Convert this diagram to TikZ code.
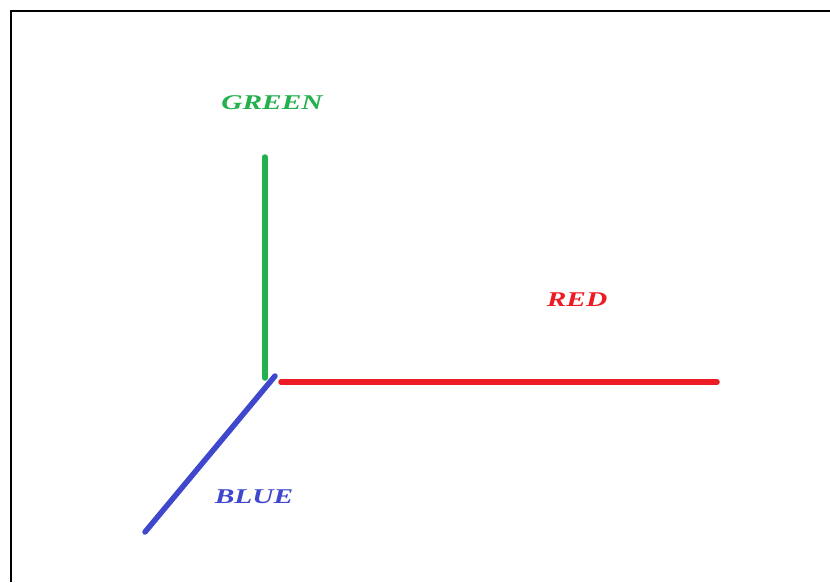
\documentclass[tikz,border=0pt]{standalone}
\usepackage{fontspec}
\setmainfont{Liberation Serif}
\usepackage{tikz}
\usetikzlibrary{positioning}

\definecolor{paintgreen}{RGB}{34,177,76}
\definecolor{paintred}{RGB}{237,28,36}
\definecolor{paintblue}{RGB}{63,72,204}

\begin{document}
\begin{tikzpicture}[
  x=1pt, y=-1pt,
  axis/.style={line width=5.5pt, line cap=round},
  axislabel/.style={font=\fontsize{21}{21}\selectfont\bfseries\itshape,
             inner sep=0pt, xscale=1.4, transform shape}
]
\useasboundingbox (0,0) rectangle (830,582);

% frame
\draw[line width=2pt] (11,582) -- (11,11) -- (830,11);

% axes
\coordinate (gtop) at (265,157);
\coordinate (gbot) at (265,378);
\coordinate (rleft) at (281,382);
\coordinate (rright) at (717,382);
\coordinate (bup) at (275,376);
\coordinate (bdown) at (145,532);

\draw[axis, paintgreen] (gtop) -- (gbot);
\draw[axis, paintred] (rleft) -- (rright);
\draw[axis, paintblue] (bup) -- (bdown);

% labels
\node[axislabel, text=paintgreen] (green) at (272,103) {GREEN};
\node[axislabel, text=paintred] (red) at (577,300) {RED};
\node[axislabel, text=paintblue] (blue) at (254,497) {BLUE};

\end{tikzpicture}
\end{document}
